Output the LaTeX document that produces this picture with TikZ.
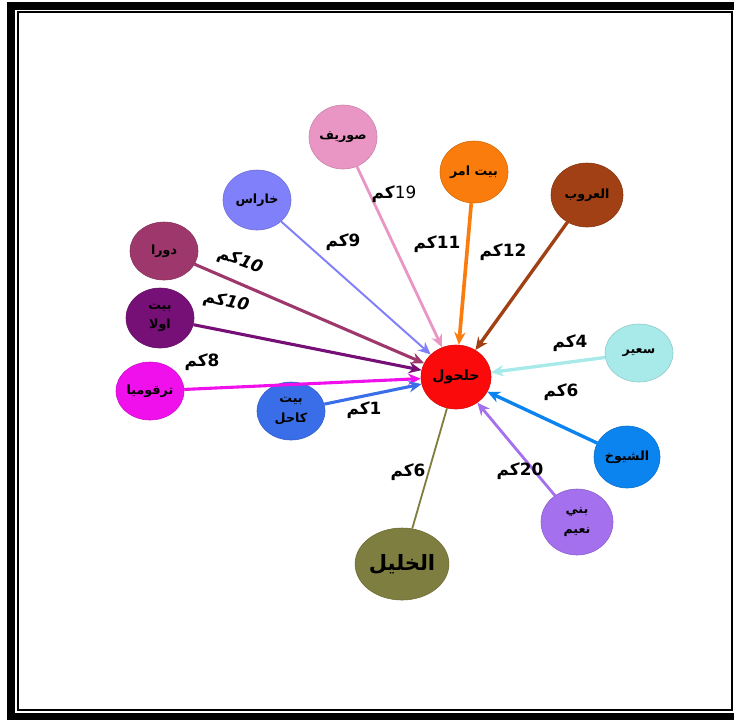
\documentclass[tikz,border=0pt]{standalone}
\usepackage{fontspec}
\setmainfont{DejaVu Sans}
\newfontfamily\arabicfont[Script=Arabic]{DejaVu Sans}
\TeXXeTstate=1
\usepackage{xcolor}
\usetikzlibrary{arrows.meta,shapes.geometric}
\definecolor{halhulRed}{RGB}{250,10,10}
\definecolor{surifPink}{RGB}{234,150,196}
\definecolor{ummarOrange}{RGB}{250,124,12}
\definecolor{arroubBrown}{RGB}{160,64,20}
\definecolor{kharasBlue}{RGB}{128,128,250}
\definecolor{duraPlum}{RGB}{158,56,108}
\definecolor{ulaPurple}{RGB}{118,16,118}
\definecolor{tarqMagenta}{RGB}{240,16,236}
\definecolor{kahilBlue}{RGB}{58,110,232}
\definecolor{sairCyan}{RGB}{168,234,234}
\definecolor{shuyukhBlue}{RGB}{12,132,240}
\definecolor{naimViolet}{RGB}{164,112,238}
\definecolor{khalilOlive}{RGB}{126,126,64}
\newcommand{\arb}[1]{{\arabicfont\bfseries\beginR #1\endR}}
\newcommand{\km}[1]{\arb{كم}#1}
\tikzset{
  town/.style={
    ellipse, inner sep=0pt, minimum width=1.7cm, minimum height=1.5cm,
    font=\fontsize{9}{14}\selectfont, align=center
  },
  road/.style={-{Stealth[length=9pt,width=8pt]}, line width=2pt},
  dist/.style={font=\fontsize{12}{12}\selectfont\bfseries, inner sep=1pt}
}

\begin{document}
\begin{tikzpicture}[x=0.025cm, y=-0.025cm]
  \useasboundingbox (0,0) rectangle (734,719);
  % frame
  \draw[line width=0.2cm] (11,6) rectangle (745,717);
  \draw[line width=0.05cm] (18,12) rectangle (732,710);

  % towns
  \node[town, fill=halhulRed, draw=halhulRed!85!black, minimum width=1.75cm, minimum height=1.6cm,
        font=\fontsize{10}{12}\selectfont] (halhul) at (456,377) {\arb{حلحول}};
  \node[town, fill=surifPink, draw=surifPink!85!black, minimum height=1.6cm] (surif) at (343,137) {\arb{صوريف}};
  \node[town, fill=ummarOrange, draw=ummarOrange!85!black, minimum height=1.55cm] (ummar) at (474,172) {\arb{بيت امر}};
  \node[town, fill=arroubBrown, draw=arroubBrown!85!black, minimum width=1.8cm, minimum height=1.6cm] (arroub) at (587,195) {\arb{العروب}};
  \node[town, fill=kharasBlue, draw=kharasBlue!85!black] (kharas) at (257,200) {\arb{خاراس}};
  \node[town, fill=duraPlum, draw=duraPlum!85!black, minimum height=1.45cm] (dura) at (164,251) {\arb{دورا}};
  \node[town, fill=ulaPurple, draw=ulaPurple!85!black] (ula) at (160,318) {\arb{بيت}\\\arb{اولا}};
  \node[town, fill=tarqMagenta, draw=tarqMagenta!85!black, minimum height=1.45cm] (tarq) at (150,391) {\arb{ترقوميا}};
  \node[town, fill=kahilBlue, draw=kahilBlue!85!black, minimum height=1.45cm] (kahil) at (291,411) {\arb{بيت}\\\arb{كاحل}};
  \node[town, fill=sairCyan, draw=sairCyan!85!black, minimum height=1.45cm] (sair) at (639,353) {\arb{سعير}};
  \node[town, fill=shuyukhBlue, draw=shuyukhBlue!85!black, minimum width=1.65cm, minimum height=1.55cm] (shuyukh) at (627,457) {\arb{الشيوخ}};
  \node[town, fill=naimViolet, draw=naimViolet!85!black, minimum width=1.8cm, minimum height=1.65cm] (naim) at (577,522) {\arb{بني}\\\arb{نعيم}};
  \node[town, fill=khalilOlive, draw=khalilOlive!85!black, minimum width=2.1cm, minimum height=1.8cm,
        font=\fontsize{15}{15}\selectfont] (khalil) at (402,564) {\arb{الخليل}};

  % roads into halhul
  \draw[road, color=surifPink, line width=2pt] (surif) -- (halhul);
  \draw[road, color=ummarOrange, line width=2.6pt] (ummar) -- (halhul);
  \draw[road, color=arroubBrown, line width=2.4pt] (arroub) -- (halhul);
  \draw[road, color=kharasBlue, line width=1.4pt] (kharas) -- (halhul);
  \draw[road, color=duraPlum, line width=2.2pt] (dura) -- (halhul);
  \draw[road, color=ulaPurple, line width=2.2pt] (ula) -- (halhul);
  \draw[road, color=tarqMagenta, line width=2.2pt] (tarq) -- (halhul);
  \draw[road, color=kahilBlue, line width=2.2pt] (kahil) -- (halhul);
  \draw[road, color=sairCyan, line width=2.4pt] (sair) -- (halhul);
  \draw[road, color=shuyukhBlue, line width=2.4pt] (shuyukh) -- (halhul);
  \draw[road, color=naimViolet, line width=2pt] (naim) -- (halhul);
  \draw[color=khalilOlive, line width=1.3pt] (halhul) -- (khalil);

  % distances
  \node[dist, font=\fontsize{12}{12}\selectfont] (dSurif) at (394,194) {\km{19}};
  \node[dist] (dKharas) at (343,242) {\km{9}};
  \node[dist] (dUmmar) at (437,244) {\km{11}};
  \node[dist] (dArroub) at (503,252) {\km{12}};
  \node[dist, rotate=-20] (dDura) at (240,261) {\arb{كم}\textit{10}};
  \node[dist, rotate=-12] (dUla) at (226,302) {\arb{كم}\textit{10}};
  \node[dist] (dTarq) at (202,362) {\km{8}};
  \node[dist] (dKahil) at (364,410) {\km{1}};
  \node[dist] (dSair) at (570,343) {\km{4}};
  \node[dist] (dShuyukh) at (561,392) {\km{6}};
  \node[dist] (dKhalil) at (408,472) {\km{6}};
  \node[dist] (dNaim) at (520,471) {\km{20}};
\end{tikzpicture}
\end{document}
